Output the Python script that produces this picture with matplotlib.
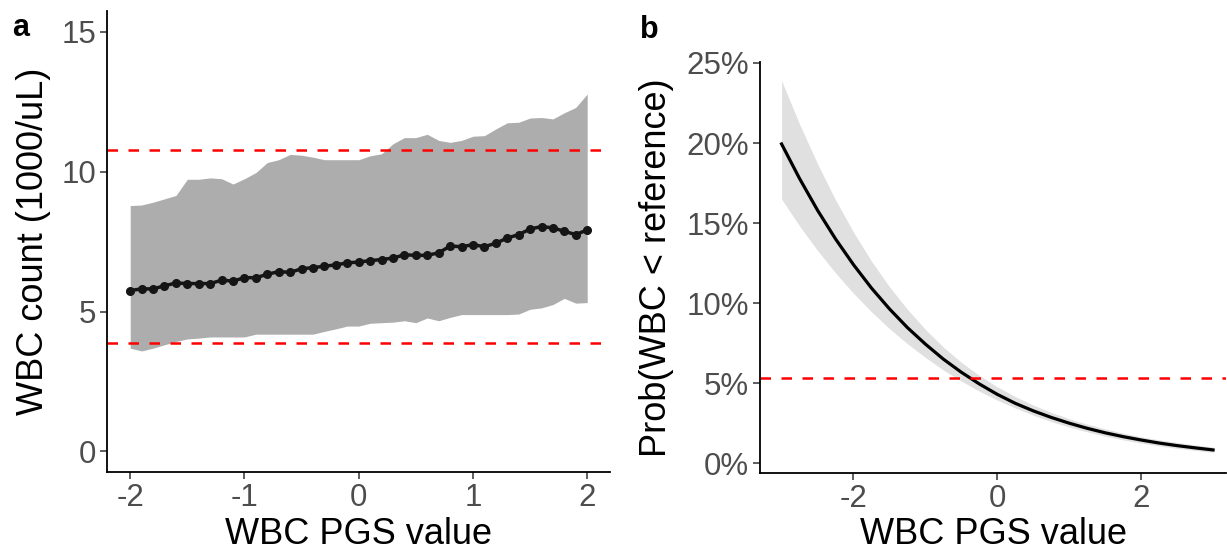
import numpy as np
import matplotlib
matplotlib.use("Agg")
import matplotlib.pyplot as plt

plt.rcParams["font.family"] = ["Liberation Sans", "DejaVu Sans"]
plt.rcParams["axes.unicode_minus"] = False

# panel a: WBC count by PGS bin
pgs_a = [-2.0, -1.9, -1.8, -1.7, -1.6, -1.5, -1.4, -1.3, -1.2, -1.1, -1.0,
         -0.9, -0.8, -0.7, -0.6, -0.5, -0.4, -0.3, -0.2, -0.1, 0.0,
         0.1, 0.2, 0.3, 0.4, 0.5, 0.6, 0.7, 0.8, 0.9, 1.0,
         1.1, 1.2, 1.3, 1.4, 1.5, 1.6, 1.7, 1.8, 1.9, 2.0]
wbc_mean = [5.75, 5.81, 5.81, 5.92, 6.02, 6.00, 6.00, 6.00, 6.12, 6.09, 6.21,
            6.21, 6.33, 6.43, 6.40, 6.53, 6.57, 6.62, 6.67, 6.74, 6.77,
            6.82, 6.86, 6.91, 7.03, 7.01, 7.01, 7.10, 7.34, 7.32, 7.39,
            7.32, 7.44, 7.63, 7.75, 7.95, 8.04, 7.99, 7.87, 7.75, 7.92]
wbc_high = [8.79, 8.81, 8.91, 9.03, 9.15, 9.73, 9.73, 9.78, 9.75, 9.56, 9.75,
            9.97, 10.33, 10.43, 10.62, 10.59, 10.52, 10.43, 10.43, 10.43, 10.43,
            10.57, 10.64, 11.00, 11.22, 11.22, 11.34, 11.12, 11.05, 11.12, 11.27,
            11.29, 11.53, 11.75, 11.77, 11.92, 11.94, 11.89, 12.11, 12.30, 12.78]
wbc_low = [3.69, 3.59, 3.69, 3.81, 3.93, 4.02, 4.05, 4.09, 4.09, 4.09, 4.09,
           4.19, 4.19, 4.19, 4.19, 4.19, 4.19, 4.29, 4.38, 4.48, 4.48,
           4.58, 4.60, 4.62, 4.67, 4.60, 4.77, 4.67, 4.79, 4.89, 4.89,
           4.89, 4.89, 4.89, 4.91, 5.08, 5.13, 5.25, 5.47, 5.30, 5.32]
ref_low = 3.88
ref_high = 10.76

# panel b: probability of WBC below reference (%)
pgs_b = [-3.0, -2.75, -2.5, -2.25, -2.0, -1.75, -1.5, -1.25, -1.0, -0.75, -0.5, -0.25, 0.0,
         0.25, 0.5, 0.75, 1.0, 1.25, 1.5, 1.75, 2.0, 2.25, 2.5, 2.75, 3.0]
prob = [19.94, 17.78, 15.80, 14.01, 12.40, 10.94, 9.64, 8.47, 7.44, 6.50, 5.68, 4.95, 4.30,
        3.74, 3.27, 2.86, 2.50, 2.18, 1.90, 1.66, 1.45, 1.26, 1.10, 0.96, 0.83]
prob_low = [16.50, 14.82, 13.29, 11.89, 10.61, 9.46, 8.41, 7.46, 6.61, 5.82, 5.13, 4.50, 3.94,
            3.45, 3.00, 2.60, 2.26, 1.96, 1.69, 1.46, 1.26, 1.08, 0.93, 0.80, 0.68]
prob_high = [23.90, 21.18, 18.70, 16.45, 14.43, 12.62, 11.02, 9.61, 8.36, 7.25, 6.30, 5.48, 4.77,
             4.16, 3.63, 3.17, 2.78, 2.44, 2.14, 1.88, 1.65, 1.46, 1.29, 1.14, 1.01]
prob_ref = 5.31

fig = plt.figure(figsize=(12.27, 5.54), dpi=100)
ax1 = fig.add_axes([0.0875, 0.1475, 0.4097, 0.8327])
ax2 = fig.add_axes([0.6194, 0.1468, 0.3798, 0.7413])

dash = (0, (4.2, 4.2))

ax1.fill_between(pgs_a, wbc_low, wbc_high, color="#adadad", linewidth=0)
ax1.plot(pgs_a, wbc_mean, color="#151515", lw=2.5, marker="o", ms=5.5)
ax1.axhline(ref_high, color="#ff0000", lw=1.8, linestyle=dash)
ax1.axhline(ref_low, color="#ff0000", lw=1.8, linestyle=dash)
ax1.set_xlim(-2.2, 2.2)
ax1.set_ylim(-0.75, 15.75)
ax1.set_xticks([-2, -1, 0, 1, 2])
ax1.set_yticks([0, 5, 10, 15])
ax1.set_xlabel("WBC PGS value", fontsize=26)
ax1.set_ylabel("WBC count (1000/uL)", fontsize=26)
ax1.xaxis.set_label_coords(0.5, -0.097)
ax1.yaxis.set_label_coords(-0.113, 0.5)

ax2.fill_between(pgs_b, prob_low, prob_high, color="#e0e0e0", linewidth=0)
ax2.plot(pgs_b, prob, color="black", lw=2.3)
ax2.axhline(prob_ref, color="#ff0000", lw=1.8, linestyle=dash)
ax2.set_xlim(-3.3, 3.18)
ax2.set_ylim(-0.59, 25.06)
ax2.set_xticks([-2, 0, 2])
ax2.set_yticks([0, 5, 10, 15, 20, 25])
ax2.set_yticklabels([f"{v}%" for v in [0, 5, 10, 15, 20, 25]])
ax2.set_xlabel("WBC PGS value", fontsize=26)
ax2.set_ylabel("Prob(WBC < reference)", fontsize=26)
ax2.xaxis.set_label_coords(0.5, -0.109)
ax2.yaxis.set_label_coords(-0.185, 0.5)

for ax in (ax1, ax2):
    for s in ("top", "right"):
        ax.spines[s].set_visible(False)
    for s in ("left", "bottom"):
        ax.spines[s].set_linewidth(1.3)
    ax.tick_params(labelsize=22.5, labelcolor="#4d4d4d", color="#333333",
                   length=5, width=1.1, pad=3)

fig.text(12 / 1227, 1 - 36 / 554, "a", fontsize=22, fontweight="bold")
fig.text(640 / 1227, 1 - 38 / 554, "b", fontsize=22, fontweight="bold")

fig.savefig("out.png", dpi=100)
